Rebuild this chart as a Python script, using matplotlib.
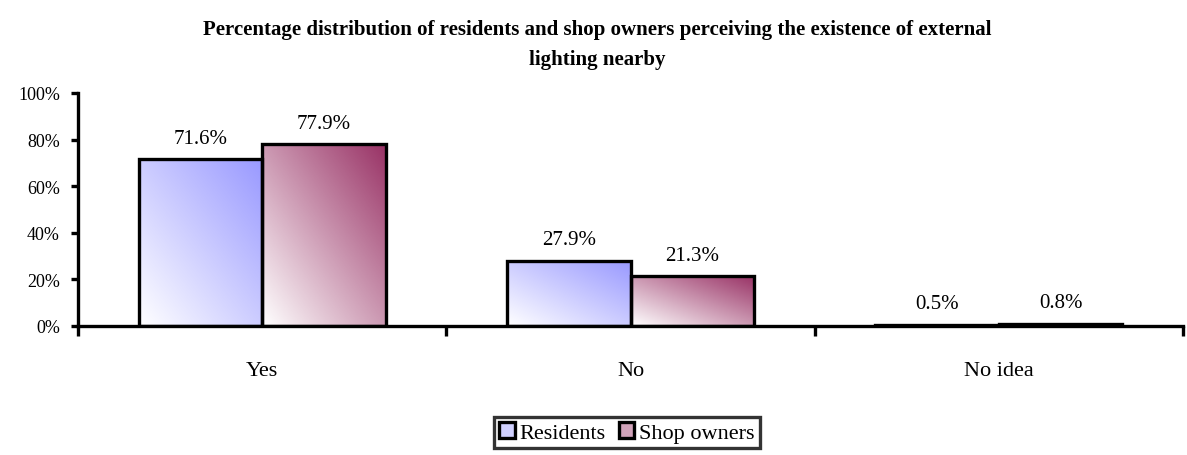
import matplotlib.pyplot as plt
import numpy as np
from matplotlib.colors import LinearSegmentedColormap
from matplotlib.patches import Patch

categories = ['Yes', 'No', 'No idea']
residents = [71.6, 27.9, 0.5]
shop_owners = [77.9, 21.3, 0.8]
series_names = ['Residents', 'Shop owners']
yticks = [0, 20, 40, 60, 80, 100]

plt.rcParams['font.family'] = ['Liberation Serif', 'DejaVu Serif']

fig = plt.figure(figsize=(11.87, 4.56), dpi=100)
ax = fig.add_axes([0.0657, 0.2829, 0.931, 0.511])

x = np.arange(len(categories))
w = 0.335
colors = ['#9999ff', '#993366']

# diagonal gradient: white bottom-left -> colour top-right
gx, gy = np.meshgrid(np.linspace(0, 1, 100), np.linspace(0, 1, 100))
grad = (gx + gy) / 2

for vals, off, c in [(residents, -w/2, colors[0]), (shop_owners, w/2, colors[1])]:
    cmap = LinearSegmentedColormap.from_list('g', ['#ffffff', c])
    bars = ax.bar(x + off, vals, w, facecolor='none', edgecolor='black', linewidth=2.4, zorder=3)
    for b, v in zip(bars, vals):
        x0, y0 = b.get_x(), b.get_y()
        im = ax.imshow(grad, cmap=cmap, origin='lower', aspect='auto',
                       extent=[x0, x0 + b.get_width(), y0, y0 + b.get_height()],
                       zorder=2, vmin=0, vmax=1)
        im.set_clip_path(b)
        ax.text(b.get_x() + b.get_width()/2, v + 5, f'{v}%', ha='center', va='bottom',
                fontsize=15)

ax.set_xlim(-0.5, 2.5)
ax.set_ylim(0, 100)
ax.set_yticks(yticks)
ax.set_yticklabels([f'{t}%' for t in yticks], fontsize=13)
ax.set_xticks(x)
ax.set_xticklabels(categories, fontsize=16)
ax.tick_params(axis='x', length=0, pad=25)
ax.set_xticks([-0.5, 0.5, 1.5, 2.5], minor=True)
ax.tick_params(axis='x', which='minor', length=7, width=2.4, direction='out')
ax.tick_params(axis='y', length=5, width=2.4, direction='out', pad=8)

ax.spines['right'].set_color('none')
ax.spines['top'].set_color('none')
ax.spines['left'].set_linewidth(2.4)
ax.spines['bottom'].set_linewidth(2.4)

fig.text(0.503, 0.935, 'Percentage distribution of residents and shop owners perceiving the existence of external',
         ha='center', va='center', fontsize=15, fontweight='bold')
fig.text(0.503, 0.868, 'lighting nearby', ha='center', va='center', fontsize=15, fontweight='bold')

handles = [Patch(facecolor=LinearSegmentedColormap.from_list('g', ['#ffffff', c])(0.45),
                 edgecolor='black', linewidth=2.4) for c in colors]
leg = fig.legend(handles, series_names, loc='center', bbox_to_anchor=(0.528, 0.942 - 0.893), ncol=2,
                 fontsize=16, frameon=True, fancybox=False, handlelength=0.7, handleheight=0.7,
                 handletextpad=0.2, columnspacing=0.6, borderpad=0.25)
leg.get_frame().set_edgecolor('black')
leg.get_frame().set_linewidth(2.4)

fig.savefig('out.png', dpi=100)
